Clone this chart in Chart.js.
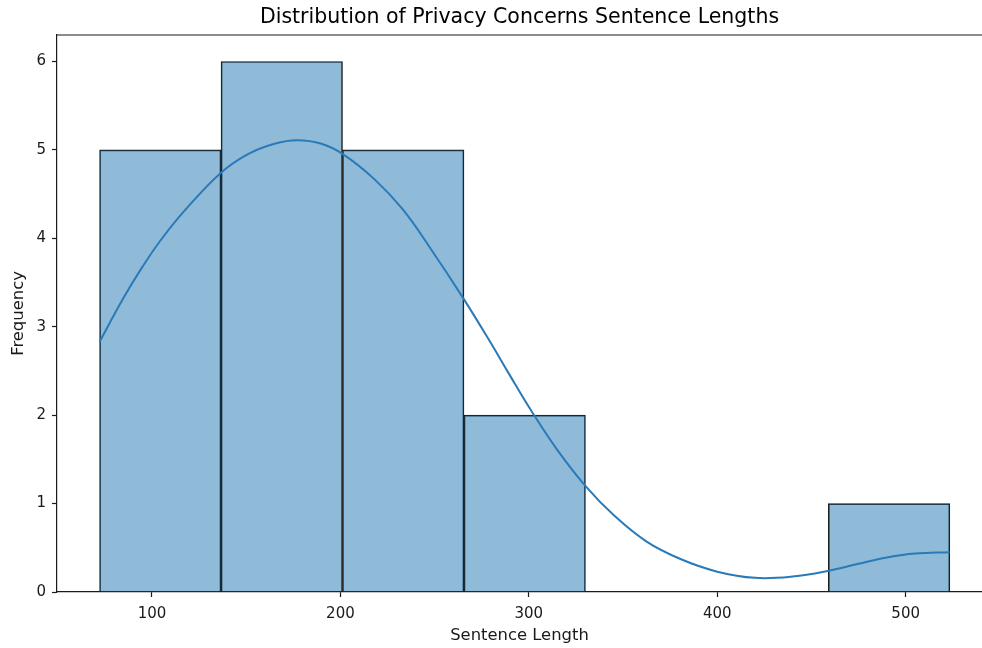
<!DOCTYPE html>
<html>
<head>
<meta charset="utf-8">
<script src="https://cdn.jsdelivr.net/npm/chart.js@4.4.1/dist/chart.umd.min.js"></script>
<style>
  body { margin: 0; background: #fff; }
  #wrap { width: 982px; height: 648px; }
</style>
</head>
<body>
<div id="wrap"><canvas id="chart" width="982" height="648"></canvas></div>
<script>
// histogram bins (sentence length) and counts
const binEdges = [72.2, 136.66, 201.12, 265.58, 330.04, 394.5, 458.96, 523.42];
const counts = [5, 6, 5, 2, 0, 0, 1];

// kde curve (in count units)
const kdeX = [72.2, 85, 95, 105, 118, 136.5, 150.7, 165, 177, 190, 201.5, 218, 233, 248,
  265.6, 280, 289.4, 301.3, 315, 330, 345, 362.5, 380.8, 400, 420, 440, 459, 475, 490, 505, 523.4];
const kdeY = [2.83, 3.33, 3.68, 3.99, 4.33, 4.74, 4.95, 5.07, 5.11, 5.07, 4.95, 4.67, 4.33, 3.88,
  3.31, 2.81, 2.47, 2.05, 1.61, 1.20, 0.87, 0.57, 0.37, 0.23, 0.16, 0.175, 0.24, 0.32, 0.39, 0.435, 0.45];

const xTicks = [100, 200, 300, 400, 500];
const yTicks = [0, 1, 2, 3, 4, 5, 6];
const xRange = [49.6, 540.5];
const yRange = [0, 6.3];

const font = 'DejaVu Sans';
const ink = '#1a1a1a';

const barData = counts.map((c, i) => ({ x: (binEdges[i] + binEdges[i + 1]) / 2, y: c }));
const kdeData = kdeX.map((x, i) => ({ x: x, y: kdeY[i] }));

// matplotlib style top spine
const topSpine = {
  id: 'topSpine',
  afterDraw(chart) {
    const { ctx, chartArea } = chart;
    ctx.save();
    ctx.strokeStyle = ink;
    ctx.lineWidth = 1.2;
    ctx.beginPath();
    ctx.moveTo(chartArea.left, chartArea.top);
    ctx.lineTo(chartArea.right, chartArea.top);
    ctx.stroke();
    ctx.restore();
  }
};

new Chart(document.getElementById('chart'), {
  data: {
    datasets: [
      {
        type: 'line',
        data: kdeData,
        borderColor: '#2a7ab8',
        borderWidth: 2,
        pointRadius: 0,
        tension: 0.4,
        fill: false,
        order: 0
      },
      {
        type: 'bar',
        data: barData,
        backgroundColor: 'rgba(31,119,180,0.5)',
        borderColor: ink,
        borderWidth: 1,
        borderSkipped: 'bottom',
        barPercentage: 1,
        categoryPercentage: 1,
        grouped: false,
        order: 1
      }
    ]
  },
  options: {
    responsive: false,
    animation: false,
    layout: { padding: 0 },
    plugins: {
      legend: { display: false },
      tooltip: { enabled: false },
      title: {
        display: true,
        fullSize: false,
        text: 'Distribution of Privacy Concerns Sentence Lengths',
        color: '#000',
        font: { family: font, size: 20.5, weight: 'normal', lineHeight: 1.2 },
        padding: { top: 5, bottom: 5.4 }
      }
    },
    scales: {
      x: {
        type: 'linear',
        offset: false,
        min: xRange[0],
        max: xRange[1],
        afterBuildTicks(scale) { scale.ticks = xTicks.map(v => ({ value: v })); },
        afterFit(scale) { scale.height = 56; scale.paddingRight = 0; scale.paddingLeft = 0; },
        ticks: { color: ink, font: { family: font, size: 15 }, padding: 8, maxRotation: 0 },
        grid: { offset: false, drawOnChartArea: false, tickLength: 5, color: ink, tickWidth: 1.2 },
        border: { color: ink, width: 1.2 },
        title: { display: true, text: 'Sentence Length', color: ink, font: { family: font, size: 16.4 }, padding: { top: 0, bottom: 2 } }
      },
      y: {
        type: 'linear',
        min: yRange[0],
        max: yRange[1],
        afterBuildTicks(scale) { scale.ticks = yTicks.map(v => ({ value: v })); },
        afterFit(scale) { scale.width = 57; },
        ticks: { color: ink, font: { family: font, size: 15 }, padding: 6 },
        grid: { drawOnChartArea: false, tickLength: 5, color: ink, tickWidth: 1.2 },
        border: { color: ink, width: 1.2 },
        title: { display: true, text: 'Frequency', color: ink, font: { family: font, size: 16.4 }, padding: { top: 8.5, bottom: 0 } }
      }
    }
  },
  plugins: [topSpine]
});
</script>
</body>
</html>
